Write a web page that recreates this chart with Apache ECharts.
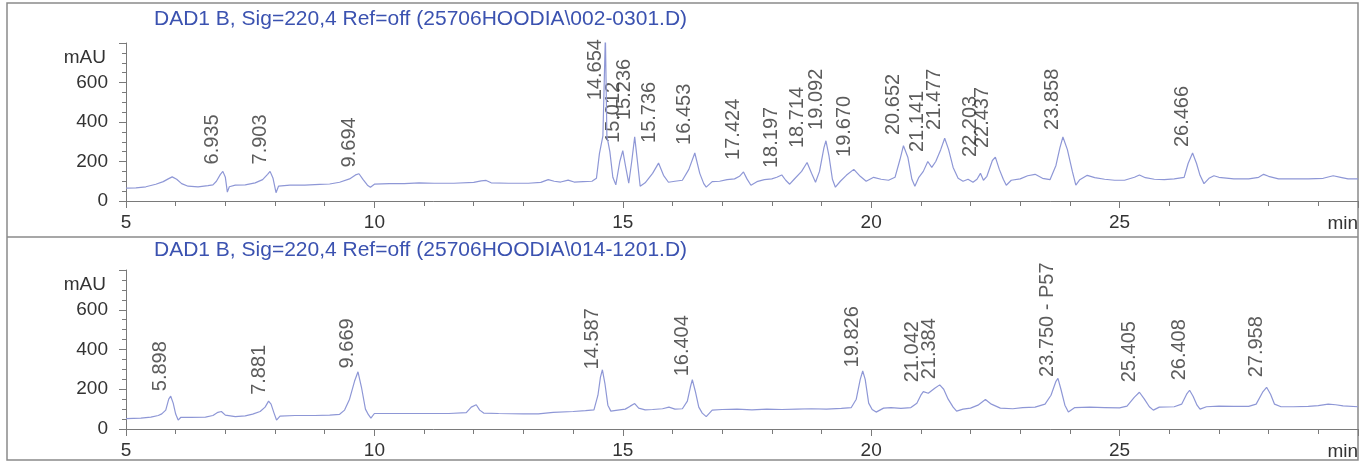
<!DOCTYPE html>
<html><head><meta charset="utf-8">
<script src="https://cdn.jsdelivr.net/npm/echarts@6/dist/echarts.min.js"></script>
<style>html,body{margin:0;padding:0;background:#fff}#c{width:1367px;height:466px}</style>
</head><body><div id="c"></div>
<script>
// ---- data ----
const panelTitles = [
  "DAD1 B, Sig=220,4 Ref=off (25706HOODIA\\002-0301.D)",
  "DAD1 B, Sig=220,4 Ref=off (25706HOODIA\\014-1201.D)"
];
const xUnit = "min";
const yUnit = "mAU";
const yTickLabels = ["0", "200", "400", "600"];

// retention time (min), absorbance (mAU)
const topTrace = [[5.0,65],[5.2,66],[5.4,72],[5.6,85],[5.75,98],[5.85,112],[5.93,122],[6.02,110],[6.12,88],[6.25,75],[6.45,72],[6.65,78],[6.75,82],[6.82,100],[6.9,135],[6.95,150],[7.0,120],[7.04,45],[7.08,72],[7.2,80],[7.4,82],[7.6,92],[7.75,108],[7.85,135],[7.9,150],[7.96,115],[8.02,42],[8.07,75],[8.3,80],[8.6,80],[8.9,84],[9.1,86],[9.3,95],[9.5,112],[9.62,132],[9.69,138],[9.77,110],[9.86,80],[9.92,70],[10.0,85],[10.3,88],[10.6,88],[10.9,92],[11.2,90],[11.6,90],[12.0,94],[12.15,102],[12.25,104],[12.35,92],[12.7,90],[13.1,90],[13.35,94],[13.5,108],[13.62,100],[13.75,96],[13.9,106],[14.02,96],[14.2,98],[14.38,100],[14.47,115],[14.53,240],[14.6,330],[14.65,840],[14.68,330],[14.74,250],[14.8,120],[14.86,82],[14.94,200],[15.0,255],[15.06,170],[15.12,90],[15.18,200],[15.24,325],[15.3,190],[15.35,75],[15.45,92],[15.6,140],[15.72,192],[15.82,130],[15.92,95],[16.05,100],[16.2,105],[16.33,160],[16.45,243],[16.55,140],[16.63,88],[16.68,70],[16.8,98],[16.95,100],[17.1,108],[17.25,112],[17.35,125],[17.43,147],[17.5,112],[17.58,80],[17.7,98],[17.85,108],[18.0,112],[18.1,120],[18.2,132],[18.28,105],[18.36,85],[18.45,110],[18.6,150],[18.71,195],[18.8,140],[18.88,95],[18.96,150],[19.05,270],[19.09,305],[19.15,230],[19.22,110],[19.28,70],[19.38,100],[19.5,130],[19.65,160],[19.78,125],[19.9,100],[20.05,120],[20.2,110],[20.35,105],[20.48,120],[20.58,210],[20.65,280],[20.74,220],[20.82,110],[20.88,75],[20.96,120],[21.05,150],[21.14,200],[21.22,170],[21.3,200],[21.4,260],[21.48,318],[21.56,260],[21.65,170],[21.75,115],[21.85,100],[21.95,110],[22.05,95],[22.13,110],[22.2,140],[22.26,105],[22.33,125],[22.44,205],[22.5,222],[22.58,160],[22.66,110],[22.72,80],[22.82,105],[23.0,112],[23.15,128],[23.3,135],[23.45,115],[23.6,108],[23.72,180],[23.8,270],[23.86,324],[23.95,260],[24.05,150],[24.12,80],[24.2,108],[24.35,130],[24.5,118],[24.7,110],[24.9,105],[25.1,105],[25.3,120],[25.4,132],[25.52,118],[25.7,110],[25.9,108],[26.1,112],[26.3,120],[26.38,190],[26.47,243],[26.55,190],[26.62,130],[26.7,88],[26.8,115],[26.9,128],[27.0,120],[27.3,112],[27.6,112],[27.8,120],[27.9,135],[28.0,125],[28.2,112],[28.5,112],[28.8,112],[29.1,115],[29.3,128],[29.45,120],[29.6,112],[29.8,112]];

const bottomTrace = [[5.0,52],[5.3,55],[5.5,60],[5.65,68],[5.72,76],[5.8,95],[5.86,150],[5.9,165],[5.95,130],[6.0,75],[6.05,45],[6.1,58],[6.3,58],[6.6,60],[6.75,68],[6.85,84],[6.92,88],[7.0,70],[7.2,62],[7.4,66],[7.55,75],[7.7,88],[7.8,110],[7.87,140],[7.92,125],[7.98,80],[8.03,45],[8.1,65],[8.4,68],[8.8,68],[9.1,70],[9.3,74],[9.4,95],[9.5,150],[9.6,240],[9.67,288],[9.74,210],[9.82,100],[9.88,72],[9.93,55],[10.0,78],[10.5,78],[11.0,78],[11.5,78],[11.85,82],[11.95,110],[12.05,122],[12.12,95],[12.2,80],[12.5,78],[13.0,76],[13.3,76],[13.6,84],[14.0,88],[14.25,92],[14.42,96],[14.5,170],[14.55,260],[14.59,298],[14.64,230],[14.7,120],[14.76,90],[14.9,95],[15.05,100],[15.15,115],[15.24,128],[15.32,105],[15.45,96],[15.6,98],[15.8,102],[15.93,110],[16.05,100],[16.2,102],[16.3,140],[16.36,210],[16.4,248],[16.46,190],[16.53,110],[16.6,80],[16.68,62],[16.8,95],[17.0,98],[17.3,100],[17.6,96],[17.9,100],[18.2,98],[18.5,100],[18.8,102],[19.1,100],[19.4,104],[19.6,108],[19.7,150],[19.78,250],[19.83,292],[19.88,250],[19.95,130],[20.02,98],[20.1,85],[20.25,105],[20.4,108],[20.6,104],[20.8,108],[20.92,130],[21.0,170],[21.05,188],[21.15,180],[21.28,205],[21.38,222],[21.46,200],[21.55,150],[21.65,110],[21.72,90],[21.85,100],[22.0,105],[22.15,120],[22.3,148],[22.42,125],[22.6,105],[22.85,102],[23.05,108],[23.3,110],[23.5,125],[23.62,170],[23.72,240],[23.76,255],[23.82,200],[23.9,120],[23.97,85],[24.1,108],[24.4,110],[24.7,108],[25.0,106],[25.15,115],[25.3,160],[25.4,185],[25.5,150],[25.6,112],[25.68,95],[25.8,110],[26.1,112],[26.25,125],[26.35,175],[26.41,195],[26.48,165],[26.56,120],[26.62,100],[26.75,112],[27.0,115],[27.3,114],[27.6,114],[27.75,125],[27.88,185],[27.96,210],[28.04,175],[28.12,125],[28.25,112],[28.5,112],[28.8,114],[29.0,118],[29.2,125],[29.35,122],[29.5,116],[29.8,112]];

// labelled peaks: retention time, height at which the label starts (mAU)
const topPeakTimes   = [6.935, 7.903, 9.694, 14.654, 15.012, 15.236, 15.736, 16.453, 17.424, 18.197, 18.714, 19.092, 19.670, 20.652, 21.141, 21.477, 22.203, 22.437, 23.858, 26.466];
const topPeakHeights = [185,   185,   170,   510,    294,    410,    294,    284,    208,    167,    268,    360,    223,    334,    248,    360,    223,    268,    360,    273];
const topPeakNames   = topPeakTimes.map(t => t.toFixed(3));

const bottomPeakTimes   = [5.898, 7.881, 9.669, 14.587, 16.404, 19.826, 21.042, 21.384, 23.750, 25.405, 26.408, 27.958];
const bottomPeakHeights = [190,   172,   305,   300,    265,    310,    235,    250,    262,    235,    245,    260];
const bottomPeakNames   = ["5.898", "7.881", "9.669", "14.587", "16.404", "19.826", "21.042", "21.384", "23.750 - P57", "25.405", "26.408", "27.958"];

// ---- chart ----
const FONT = "'Liberation Sans', Arial, sans-serif";
const TRACE = '#8e97d6';
const AXIS = '#7a7a7a';

function xAxisFor(i) {
  return {
    gridIndex: i, type: 'value', min: 5, max: 29.8, interval: 5,
    name: xUnit, nameLocation: 'end', nameGap: 0,
    nameTextStyle: { fontFamily: FONT, fontSize: 19, color: '#333', align: 'right', verticalAlign: 'top', padding: [13, 0, 0, 0] },
    axisLine: { show: true, onZero: false, lineStyle: { color: AXIS, width: 1 } },
    axisTick: { show: true, length: 7, lineStyle: { color: AXIS } },
    minorTick: { show: true, splitNumber: 5, length: 5, lineStyle: { color: AXIS } },
    axisLabel: { fontFamily: FONT, fontSize: 19, color: '#333', margin: 12, showMaxLabel: false },
    splitLine: { show: false }
  };
}
function yAxisFor(i) {
  return {
    gridIndex: i, type: 'value', min: 0, max: 800, interval: 200,
    name: yUnit, nameLocation: 'end', nameGap: -15,
    nameTextStyle: { fontFamily: FONT, fontSize: 19, color: '#333', align: 'right', verticalAlign: 'middle', padding: [0, 20, 0, 0] },
    axisLine: { show: true, lineStyle: { color: AXIS, width: 1 } },
    axisTick: { show: true, length: 7, lineStyle: { color: AXIS } },
    minorTick: { show: true, splitNumber: 4, length: 4, lineStyle: { color: AXIS } },
    axisLabel: { fontFamily: FONT, fontSize: 19, color: '#333', margin: 18,
      formatter: v => { const idx = v / 200; return yTickLabels[idx] !== undefined ? yTickLabels[idx] : ''; } },
    splitLine: { show: false }
  };
}
function peakSeries(i, times, heights, names) {
  return {
    type: 'scatter', xAxisIndex: i, yAxisIndex: i, symbolSize: 0, silent: true,
    data: times.map((t, k) => ({ value: [t, heights[k]], name: names[k] })),
    label: { show: true, position: 'top', distance: 0, rotate: 90, align: 'left', verticalAlign: 'bottom',
      formatter: p => p.name, fontFamily: FONT, fontSize: 20, color: '#333' }
  };
}

const chart = echarts.init(document.getElementById('c'), null, { renderer: 'canvas' });
chart.setOption({
  backgroundColor: '#ffffff',
  animation: false,
  title: [
    { text: panelTitles[0], left: 149, top: 4, textStyle: { fontFamily: FONT, fontSize: 21, fontWeight: 'normal', color: '#3b52b0' } },
    { text: panelTitles[1], left: 149, top: 235, textStyle: { fontFamily: FONT, fontSize: 21, fontWeight: 'normal', color: '#3b52b0' } }
  ],
  grid: [
    { left: 126, right: 9, top: 43, height: 158 },
    { left: 126, right: 9, top: 270, height: 159 }
  ],
  xAxis: [xAxisFor(0), xAxisFor(1)],
  yAxis: [yAxisFor(0), yAxisFor(1)],
  series: [
    { type: 'line', xAxisIndex: 0, yAxisIndex: 0, data: topTrace, showSymbol: false, clip: true,
      lineStyle: { color: TRACE, width: 1.2 }, silent: true },
    { type: 'line', xAxisIndex: 1, yAxisIndex: 1, data: bottomTrace, showSymbol: false, clip: true,
      lineStyle: { color: TRACE, width: 1.2 }, silent: true },
    peakSeries(0, topPeakTimes, topPeakHeights, topPeakNames),
    peakSeries(1, bottomPeakTimes, bottomPeakHeights, bottomPeakNames)
  ],
  graphic: [
    { type: 'rect', shape: { x: 7, y: 3, width: 1351, height: 457 }, style: { fill: 'none', stroke: '#8a8a8a', lineWidth: 1.5 }, silent: true },
    { type: 'line', shape: { x1: 7, y1: 237, x2: 1358, y2: 237 }, style: { stroke: '#8a8a8a', lineWidth: 1.5 }, silent: true }
  ]
});
</script>
</body></html>
